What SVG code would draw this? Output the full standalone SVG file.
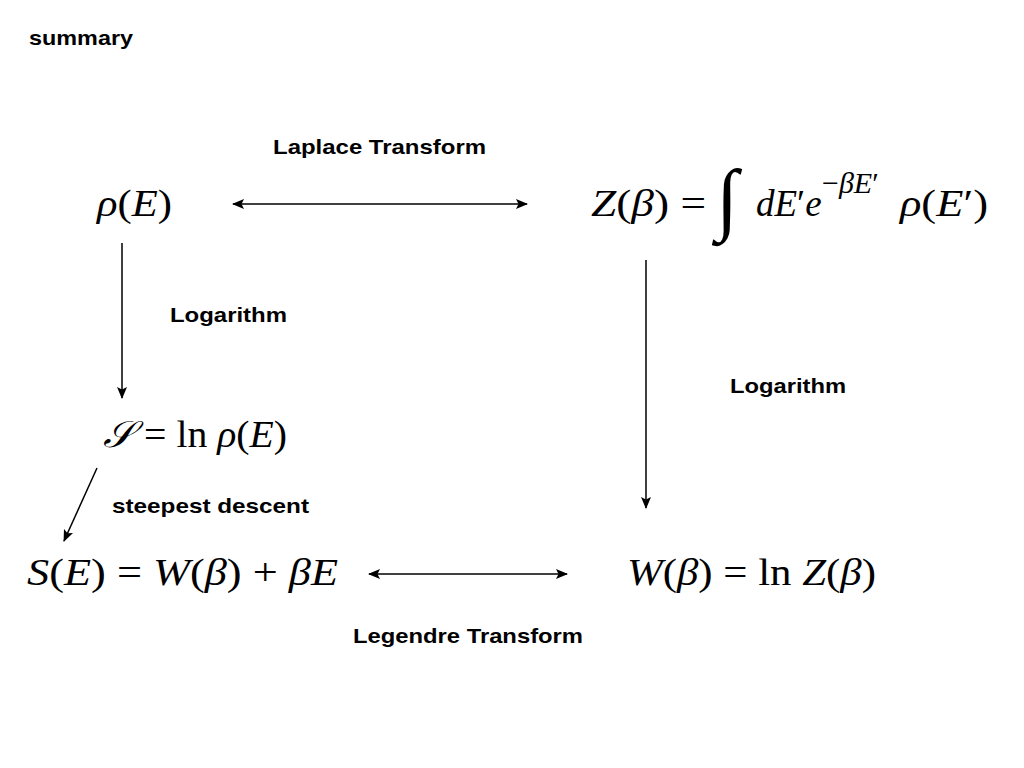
<svg xmlns="http://www.w3.org/2000/svg" width="1024" height="768" viewBox="0 0 1024 768">
<style>
.lbl{font-family:"Liberation Sans",Arial,sans-serif;font-weight:bold;font-size:21px;fill:#000}
.m{font-family:"Liberation Serif","Times New Roman",serif;font-size:37px;fill:#000}
.i{font-style:italic}
.sup{font-size:30px}
.int{font-size:80px}
.ln{stroke:#000;stroke-width:1.5;fill:none}
</style>
<defs>
<marker id="ah" viewBox="0 0 12 10" refX="11" refY="5" markerWidth="12" markerHeight="10" markerUnits="userSpaceOnUse" orient="auto-start-reverse">
<path d="M0,0 L12,5 L0,10 L2.5,5 Z" fill="#000"/>
</marker>
</defs>
<rect width="1024" height="768" fill="#fff"/>
<text class="lbl" x="29" y="45" textLength="104" lengthAdjust="spacingAndGlyphs">summary</text>

<g id="rho">
<text class="m" x="97" y="216" textLength="75" lengthAdjust="spacingAndGlyphs"><tspan class="i">ρ</tspan>(<tspan class="i">E</tspan>)</text>
</g>
<g id="Z">
<text class="m" x="591" y="216" textLength="115" lengthAdjust="spacingAndGlyphs"><tspan class="i">Z</tspan>(<tspan class="i">β</tspan>) =</text>
<text class="m int" x="716" y="225">∫</text>
<text class="m" x="756" y="216"><tspan class="i">dE</tspan>′<tspan class="i">e</tspan><tspan class="sup" x="822" dy="-23">−<tspan class="i">βE</tspan>′</tspan></text>
<text class="m" x="900" y="216" textLength="88" lengthAdjust="spacingAndGlyphs"><tspan class="i">ρ</tspan>(<tspan class="i">E</tspan>′)</text>
</g>
<g id="calS">
<text class="m" x="103" y="447" textLength="184" lengthAdjust="spacingAndGlyphs"><tspan class="i">𝒮</tspan> = ln <tspan class="i">ρ</tspan>(<tspan class="i">E</tspan>)</text>
</g>
<g id="SE">
<text class="m" x="27" y="585" textLength="311" lengthAdjust="spacingAndGlyphs"><tspan class="i">S</tspan>(<tspan class="i">E</tspan>) = <tspan class="i">W</tspan>(<tspan class="i">β</tspan>) + <tspan class="i">βE</tspan></text>
</g>
<g id="W">
<text class="m" x="627" y="585" textLength="249" lengthAdjust="spacingAndGlyphs"><tspan class="i">W</tspan>(<tspan class="i">β</tspan>) = ln <tspan class="i">Z</tspan>(<tspan class="i">β</tspan>)</text>
</g>

<g id="connectors">
<line class="ln" x1="233" y1="204" x2="527" y2="204" marker-start="url(#ah)" marker-end="url(#ah)"/>
<line class="ln" x1="122" y1="243" x2="122" y2="398" marker-end="url(#ah)"/>
<line class="ln" x1="646" y1="260" x2="646" y2="508" marker-end="url(#ah)"/>
<line class="ln" x1="97" y1="468" x2="64" y2="541" marker-end="url(#ah)"/>
<line class="ln" x1="369" y1="574" x2="567" y2="574" marker-start="url(#ah)" marker-end="url(#ah)"/>
<text class="lbl" x="273" y="154" textLength="213" lengthAdjust="spacingAndGlyphs">Laplace Transform</text>
<text class="lbl" x="170" y="322" textLength="117" lengthAdjust="spacingAndGlyphs">Logarithm</text>
<text class="lbl" x="730" y="393" textLength="116" lengthAdjust="spacingAndGlyphs">Logarithm</text>
<text class="lbl" x="112" y="513" textLength="197" lengthAdjust="spacingAndGlyphs">steepest descent</text>
<text class="lbl" x="353" y="643" textLength="230" lengthAdjust="spacingAndGlyphs">Legendre Transform</text>
</g>
</svg>
